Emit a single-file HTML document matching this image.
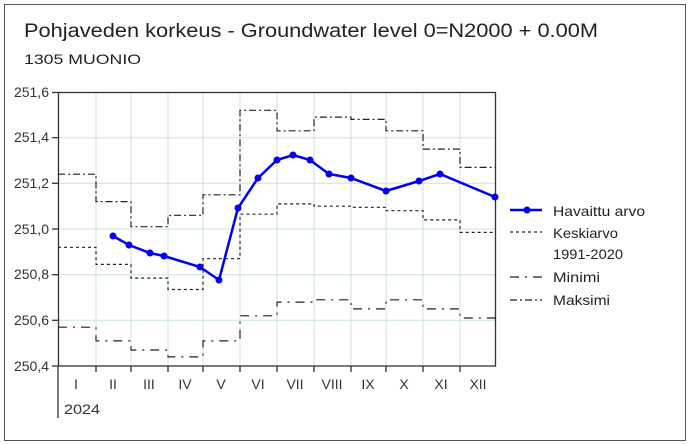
<!DOCTYPE html>
<html><head><meta charset="utf-8"><style>
html,body{margin:0;padding:0;background:#fff;}
svg{display:block;font-family:"Liberation Sans",sans-serif;}
</style></head><body>
<svg width="688" height="444" viewBox="0 0 688 444">
<rect x="4.5" y="4.5" width="681" height="436" fill="#fff" stroke="#555" stroke-width="1"/>
<text x="24" y="37" font-size="19" fill="#222" textLength="574" lengthAdjust="spacingAndGlyphs">Pohjaveden korkeus - Groundwater level 0=N2000 + 0.00M</text>
<text x="24" y="64" font-size="14" fill="#222" textLength="117" lengthAdjust="spacingAndGlyphs">1305 MUONIO</text>
<g stroke="#cfe0e0" stroke-width="1">
<line x1="96" y1="92" x2="96" y2="366"/><line x1="131" y1="92" x2="131" y2="366"/><line x1="168" y1="92" x2="168" y2="366"/><line x1="203" y1="92" x2="203" y2="366"/><line x1="240" y1="92" x2="240" y2="366"/><line x1="277" y1="92" x2="277" y2="366"/><line x1="314" y1="92" x2="314" y2="366"/><line x1="351" y1="92" x2="351" y2="366"/><line x1="386" y1="92" x2="386" y2="366"/><line x1="423" y1="92" x2="423" y2="366"/><line x1="460" y1="92" x2="460" y2="366"/>
<line x1="58" y1="137.7" x2="496" y2="137.7"/><line x1="58" y1="183.3" x2="496" y2="183.3"/><line x1="58" y1="229" x2="496" y2="229"/><line x1="58" y1="274.7" x2="496" y2="274.7"/><line x1="58" y1="320.3" x2="496" y2="320.3"/>
</g>
<rect x="58.5" y="92.5" width="437" height="273.5" fill="none" stroke="#333" stroke-width="1.3"/>
<g stroke="#333" stroke-width="1.3">
<line x1="58" y1="366" x2="58" y2="418"/>
<line x1="52" y1="92.5" x2="58" y2="92.5"/><line x1="52" y1="137.7" x2="58" y2="137.7"/><line x1="52" y1="183.3" x2="58" y2="183.3"/><line x1="52" y1="229" x2="58" y2="229"/><line x1="52" y1="274.7" x2="58" y2="274.7"/><line x1="52" y1="320.3" x2="58" y2="320.3"/><line x1="52" y1="366" x2="58" y2="366"/>
<line x1="96" y1="366" x2="96" y2="372"/><line x1="131" y1="366" x2="131" y2="372"/><line x1="168" y1="366" x2="168" y2="372"/><line x1="203" y1="366" x2="203" y2="372"/><line x1="240" y1="366" x2="240" y2="372"/><line x1="277" y1="366" x2="277" y2="372"/><line x1="314" y1="366" x2="314" y2="372"/><line x1="351" y1="366" x2="351" y2="372"/><line x1="386" y1="366" x2="386" y2="372"/><line x1="423" y1="366" x2="423" y2="372"/><line x1="460" y1="366" x2="460" y2="372"/>
</g>
<g font-size="14" fill="#333" text-anchor="end">
<text x="49" y="97">251,6</text><text x="49" y="142">251,4</text><text x="49" y="188">251,2</text><text x="49" y="234">251,0</text><text x="49" y="279">250,8</text><text x="49" y="325">250,6</text><text x="49" y="371">250,4</text>
</g>
<g font-size="14" fill="#333" text-anchor="middle">
<text x="76" y="389">I</text><text x="113" y="389">II</text><text x="149" y="389">III</text><text x="185" y="389">IV</text><text x="221" y="389">V</text><text x="258" y="389">VI</text><text x="295" y="389">VII</text><text x="332" y="389">VIII</text><text x="368" y="389">IX</text><text x="404" y="389">X</text><text x="441" y="389">XI</text><text x="478" y="389">XII</text>
</g>
<text x="64" y="414" font-size="14" fill="#333" textLength="36" lengthAdjust="spacingAndGlyphs">2024</text>
<g fill="none" stroke="#222" stroke-width="1.2">
<path stroke-dasharray="7,3,2,3" d="M58 174.2H96V201.6H131V226.7H168V215.3H203V194.8H240V110.3H277V130.8H314V117.1H351V119.4H386V130.8H423V149.1H460V167.4H496"/>
<path stroke-dasharray="3,3" d="M58 247.3H96V264.4H131V278.1H168V289.5H203V258.7H240V214.2H277V203.9H314V206.2H351V207.3H386V210.7H423V219.9H460V232.4H496"/>
<path stroke-dasharray="9,6,2,6" d="M58 327.2H96V340.9H131V350H168V356.9H203V340.9H240V315.8H277V302.1H314V299.8H351V308.9H386V299.8H423V308.9H460V318H496"/>
</g>
<polyline fill="none" stroke="#0000ee" stroke-width="2.5" points="113,236 129,245 150,253 164,256 200,267 219,280 238,208 258,178 277,160 293,155 310,160 329,174 351,178 386,191 419,181 440,174 495,197"/>
<g fill="#0000ee">
<circle cx="113" cy="236" r="3.5"/><circle cx="129" cy="245" r="3.5"/><circle cx="150" cy="253" r="3.5"/><circle cx="164" cy="256" r="3.5"/><circle cx="200" cy="267" r="3.5"/><circle cx="219" cy="280" r="3.5"/><circle cx="238" cy="208" r="3.5"/><circle cx="258" cy="178" r="3.5"/><circle cx="277" cy="160" r="3.5"/><circle cx="293" cy="155" r="3.5"/><circle cx="310" cy="160" r="3.5"/><circle cx="329" cy="174" r="3.5"/><circle cx="351" cy="178" r="3.5"/><circle cx="386" cy="191" r="3.5"/><circle cx="419" cy="181" r="3.5"/><circle cx="440" cy="174" r="3.5"/><circle cx="495" cy="197" r="3.5"/>
</g>
<line x1="510" y1="210" x2="542" y2="210" stroke="#0000ee" stroke-width="2.5"/><circle cx="527" cy="210" r="3.5" fill="#0000ee"/>
<line x1="510" y1="232" x2="542" y2="232" stroke="#222" stroke-width="1.2" stroke-dasharray="3,3"/>
<line x1="510" y1="277" x2="542" y2="277" stroke="#222" stroke-width="1.2" stroke-dasharray="9,6,2,6"/>
<line x1="510" y1="300" x2="542" y2="300" stroke="#222" stroke-width="1.2" stroke-dasharray="7,3,2,3"/>
<g font-size="14" fill="#222">
<text x="553" y="216" textLength="92" lengthAdjust="spacingAndGlyphs">Havaittu arvo</text>
<text x="553" y="238" textLength="65" lengthAdjust="spacingAndGlyphs">Keskiarvo</text>
<text x="553" y="259" textLength="70" lengthAdjust="spacingAndGlyphs">1991-2020</text>
<text x="553" y="282" textLength="47" lengthAdjust="spacingAndGlyphs">Minimi</text>
<text x="553" y="305" textLength="57" lengthAdjust="spacingAndGlyphs">Maksimi</text>
</g>
</svg>
</body></html>
